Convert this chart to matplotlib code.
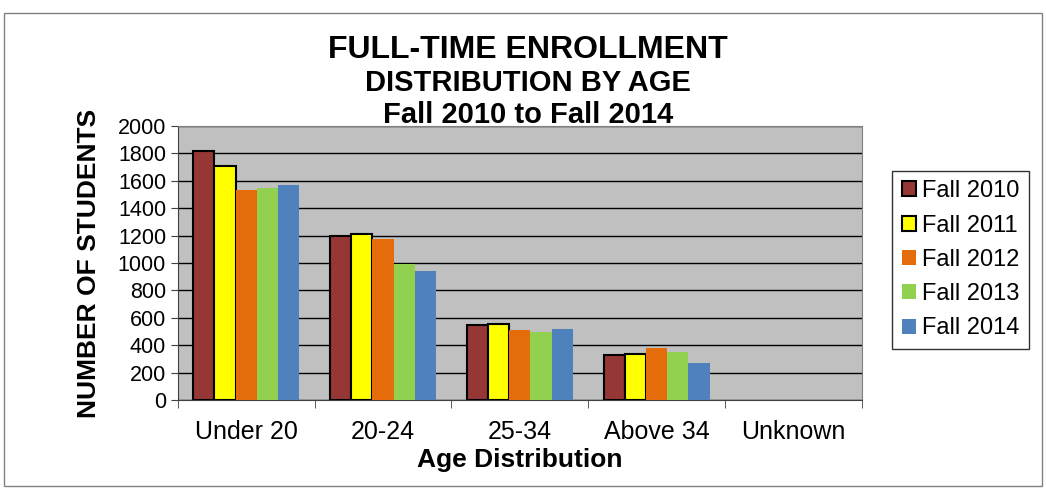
import numpy as np
import matplotlib.pyplot as plt
from matplotlib.patches import Rectangle

plt.rcParams['font.family'] = ['Liberation Sans', 'DejaVu Sans']

groups = ['Under 20', '20-24', '25-34', 'Above 34', 'Unknown']
years = ['Fall 2010', 'Fall 2011', 'Fall 2012', 'Fall 2013', 'Fall 2014']
fall2010 = [1820, 1200, 545, 332, 0]
fall2011 = [1705, 1215, 555, 333, 0]
fall2012 = [1535, 1175, 513, 377, 0]
fall2013 = [1550, 995, 500, 350, 0]
fall2014 = [1568, 944, 520, 272, 0]
series = [fall2010, fall2011, fall2012, fall2013, fall2014]
colors = ['#953735', '#FFFF00', '#E46C0A', '#92D050', '#4F81BD']
edges = ['black', 'black', 'none', 'none', 'none']

fig = plt.figure(figsize=(10.46, 4.88), dpi=100)
ax = fig.add_axes([0.170, 0.180, 0.654, 0.562])
ax.set_facecolor('#C0C0C0')

x = np.arange(len(groups))
w = 0.155
for i, vals in enumerate(series):
    lw = [1.5 if (edges[i] != 'none' and v > 0) else 0 for v in vals]
    ax.bar(x + (i - 2) * w, vals, w, color=colors[i], edgecolor=edges[i],
           linewidth=lw, label=years[i], zorder=3)

ax.set_xlim(-0.5, 4.5)
ax.set_ylim(0, 2000)
ax.set_yticks(np.arange(0, 2001, 200))
ax.yaxis.grid(True, color='black', linewidth=1.0, zorder=1)
ax.set_axisbelow(True)
ax.set_xticks(x)
ax.set_xticklabels(groups, fontsize=18)
ax.set_xticks(np.arange(-0.5, 5, 1), minor=True)
ax.tick_params(axis='x', which='major', length=0, pad=14)
ax.tick_params(axis='x', which='minor', length=6, color='#404040', direction='out')
ax.tick_params(axis='y', labelsize=15.5, length=5, color='#404040')
for s in ['top', 'right']:
    ax.spines[s].set_color('#808080')
for s in ['left', 'bottom']:
    ax.spines[s].set_color('#404040')

ax.set_ylabel('NUMBER OF STUDENTS', fontsize=19, fontweight='bold', labelpad=12)
ax.set_xlabel('Age Distribution', fontsize=19, fontweight='bold', labelpad=3)

fig.text(0.505, 0.898, 'FULL-TIME ENROLLMENT', ha='center', va='center',
         fontsize=23, fontweight='bold')
fig.text(0.505, 0.830, 'DISTRIBUTION BY AGE', ha='center', va='center',
         fontsize=21, fontweight='bold')
fig.text(0.505, 0.765, 'Fall 2010 to Fall 2014', ha='center', va='center',
         fontsize=21, fontweight='bold')

leg = ax.legend(loc='upper left', bbox_to_anchor=(0.853, 0.650), bbox_transform=fig.transFigure,
                fontsize=17, frameon=True, fancybox=False, edgecolor='black',
                handlelength=0.6, handleheight=0.6, handletextpad=0.25,
                labelspacing=0.52, borderpad=0.4, borderaxespad=0)
leg.get_frame().set_linewidth(1.0)

fig.patches.append(Rectangle((0.004, 0.004), 0.992, 0.97, transform=fig.transFigure,
                             fill=False, edgecolor='#808080', linewidth=1.0))

fig.savefig('out.png', dpi=100)
